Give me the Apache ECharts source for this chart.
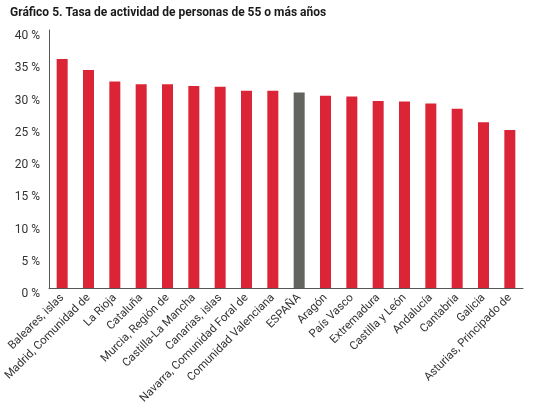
<!DOCTYPE html>
<html>
<head>
<meta charset="utf-8">
<script src="https://cdn.jsdelivr.net/npm/echarts@6/dist/echarts.min.js"></script>
<style>
  html, body { margin: 0; padding: 0; background: #fff; }
  #chart { width: 534px; height: 412px; }
</style>
</head>
<body>
<div id="chart"></div>
<script>
const regions = [
    "Baleares, islas", "Madrid, Comunidad de", "La Rioja", "Cataluña",
    "Murcia, Región de", "Castilla-La Mancha", "Canarias, islas",
    "Navarra, Comunidad Foral de", "Comunidad Valenciana", "ESPAÑA",
    "Aragón", "País Vasco", "Extremadura", "Castilla y León",
    "Andalucía", "Cantabria", "Galicia", "Asturias, Principado de"
];
const activityRate = [
    35.5, 33.8, 32.0, 31.6, 31.6, 31.3, 31.2, 30.6, 30.6, 30.3,
    29.8, 29.7, 29.0, 28.9, 28.6, 27.8, 25.7, 24.5
];
const highlight = "ESPAÑA";

const RED = "#dc2437";
const GREY = "#636360";
const FONT = "Roboto, sans-serif";

const chart = echarts.init(document.getElementById("chart"));

chart.setOption({
    animation: false,
    title: {
        text: "Gráfico 5. Tasa de actividad de personas de 55 o más años",
        left: 5,
        top: 2,
        textStyle: { fontFamily: FONT, fontSize: 12, fontWeight: "bold", color: "#1a1a1a" }
    },
    grid: { left: 49, right: 11, top: 30, bottom: 124 },
    xAxis: {
        type: "category",
        data: regions,
        axisLine: { lineStyle: { color: "#555", width: 1 } },
        axisTick: { show: false },
        axisLabel: {
            interval: 0,
            rotate: 45,
            margin: 8,
            fontFamily: FONT,
            fontSize: 11.5,
            color: "#333"
        }
    },
    yAxis: {
        type: "value",
        min: 0,
        max: 40,
        interval: 5,
        axisLine: { show: true, lineStyle: { color: "#555", width: 1 } },
        axisTick: { show: false },
        splitLine: { show: false },
        axisLabel: {
            formatter: "{value} %",
            margin: 9,
            // labels sit a little below their value, as in the original
            verticalAlign: "top",
            lineHeight: 12,
            fontFamily: FONT,
            fontSize: 12,
            color: "#333"
        }
    },
    series: [{
        type: "bar",
        barWidth: 11,
        data: regions.map((name, i) => ({
            value: activityRate[i],
            itemStyle: { color: name === highlight ? GREY : RED }
        }))
    }]
});
</script>
</body>
</html>
